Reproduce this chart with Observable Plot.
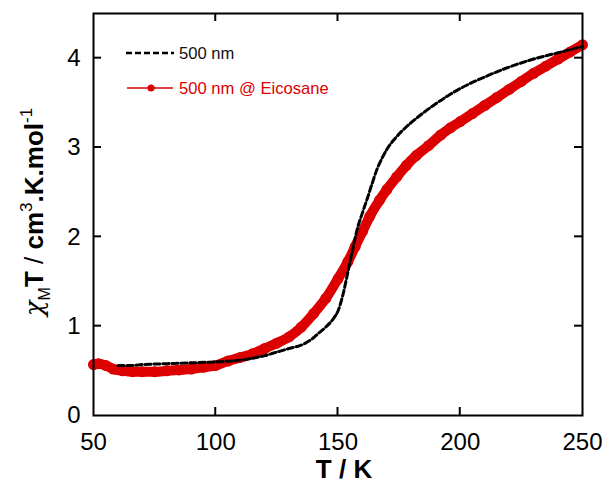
<!DOCTYPE html>
<html><head><meta charset="utf-8">
<script src="https://cdn.jsdelivr.net/npm/d3@7"></script>
<script src="https://cdn.jsdelivr.net/npm/@observablehq/plot@0.6"></script>
<style>body{margin:0;background:#fff} svg{display:block}</style>
</head><body><div id="chart"></div>
<script>
// 500 nm (dashed black)
const T_bulk   = [60,65,70,80,90,100,110,120,125,130,136,140,142,145,148,150,152,154,156,158,160,162,164,166,168,170,173,176,180,185,190,195,200,210,220,230,240,250];
const chi_bulk = [0.56,0.56,0.57,0.58,0.59,0.60,0.62,0.67,0.71,0.75,0.80,0.87,0.92,0.99,1.08,1.17,1.35,1.60,1.86,2.10,2.27,2.43,2.60,2.76,2.88,2.98,3.09,3.18,3.28,3.39,3.49,3.58,3.66,3.79,3.90,3.99,4.06,4.13];
// 500 nm @ Eicosane (red)
const T_eic    = [50,52,55,58,62,66,70,75,80,85,90,95,100,105,110,115,120,125,130,135,140,145,150,154,157,160,163,167,170,174,178,182,187,192,196,200,205,210,215,220,225,230,235,240,245,250];
const chi_eic  = [0.57,0.58,0.56,0.52,0.50,0.49,0.49,0.49,0.50,0.51,0.52,0.54,0.56,0.61,0.65,0.69,0.75,0.81,0.88,0.99,1.14,1.31,1.53,1.72,1.89,2.06,2.23,2.41,2.53,2.67,2.80,2.91,3.02,3.14,3.22,3.29,3.38,3.47,3.56,3.65,3.74,3.83,3.91,3.99,4.07,4.15];

const xTicks = [50,100,150,200,250];
const xInner = [100,150,200];
const yTicks = [0,1,2,3,4];
const yInner = [1,2,3,4];
const seriesNames = ["500 nm", "500 nm @ Eicosane"];
const xTitle = "T / K";

const RED = "#dd0000";
const bulk = T_bulk.map((t,i)=>({T:t, v:chi_bulk[i]}));
const eic = T_eic.map((t,i)=>({T:t, v:chi_eic[i]}));
const FONT = "Arial, 'Liberation Sans', sans-serif";

const chart = Plot.plot({
  width: 602, height: 483,
  marginTop: 13, marginBottom: 68, marginLeft: 93, marginRight: 20,
  style: {fontFamily: FONT, background: "#fff", color: "#000"},
  x: {domain: [50, 250]},
  y: {domain: [0, 4.5]},
  marks: [
    Plot.line(eic, {x: "T", y: "v", stroke: RED, strokeWidth: 10, curve: "monotone-x"}),
    Plot.dot(eic, {x: "T", y: "v", r: 5.5, fill: RED}),
    Plot.line(bulk, {x: "T", y: "v", stroke: "#000", strokeWidth: 3, strokeDasharray: "6,3", curve: "monotone-x"}),
    Plot.axisX({anchor: "bottom", ticks: xTicks, tickSize: 0, tickPadding: 17, fontSize: 24, tickFormat: "d", label: null}),
    Plot.axisY({anchor: "left", ticks: yTicks, tickSize: 0, tickPadding: 13, fontSize: 24, tickFormat: "d", label: null}),
    Plot.frame({stroke: "#000", strokeWidth: 2})
  ]
});
document.getElementById("chart").appendChild(chart);

const svg = d3.select(chart);
const sx = chart.scale("x"), sy = chart.scale("y");
const X0 = sx.apply(50), X1 = sx.apply(250), Y0 = sy.apply(0), Y1 = sy.apply(4.5);
// inward ticks on all four sides
const tk = svg.append("g").attr("stroke","#000").attr("stroke-width",2);
for (const v of xInner) {
  const x = sx.apply(v);
  tk.append("line").attr("x1",x).attr("x2",x).attr("y1",Y0).attr("y2",Y0-8);
  tk.append("line").attr("x1",x).attr("x2",x).attr("y1",Y1).attr("y2",Y1+8);
}
for (const v of yInner) {
  const y = sy.apply(v);
  tk.append("line").attr("x1",X0).attr("x2",X0+8).attr("y1",y).attr("y2",y);
  tk.append("line").attr("x1",X1).attr("x2",X1-8).attr("y1",y).attr("y2",y);
}

// Legend
const lg = svg.append("g").attr("font-family", FONT).attr("font-size", 16.6).attr("text-anchor","start");
lg.append("line").attr("x1",126).attr("x2",174).attr("y1",53).attr("y2",53)
  .attr("stroke","#000").attr("stroke-width",2.4).attr("stroke-dasharray","6,3");
lg.append("text").attr("x",179).attr("y",53).attr("dy","0.35em").attr("fill","#111").text(seriesNames[0]);
lg.append("line").attr("x1",127).attr("x2",173).attr("y1",88).attr("y2",88)
  .attr("stroke",RED).attr("stroke-width",1.5);
lg.append("circle").attr("cx",151).attr("cy",88).attr("r",3.5).attr("fill",RED);
lg.append("text").attr("x",179).attr("y",88).attr("dy","0.35em").attr("fill",RED).text(seriesNames[1]);

// X title
svg.append("text").attr("x",344).attr("y",478).attr("text-anchor","middle")
  .attr("font-family",FONT).attr("font-weight","bold").attr("font-size",26).text(xTitle);

// Y title with sub/superscripts
const yt = svg.append("text").attr("transform","translate(43,212) rotate(-90)")
  .attr("text-anchor","middle").attr("font-family",FONT).attr("font-weight","bold").attr("font-size",26);
yt.append("tspan").attr("font-family","'DejaVu Serif', serif").attr("font-weight","normal").attr("font-style","italic").text("χ");
yt.append("tspan").attr("font-size",16).attr("font-weight","normal").attr("dy",7).text("M");
yt.append("tspan").attr("dy",-7).text("T ");
yt.append("tspan").attr("font-weight","normal").text("/");
yt.append("tspan").text(" cm");
yt.append("tspan").attr("font-size",17).attr("font-weight","normal").attr("dy",-11).text("3");
yt.append("tspan").attr("dy",11).text(".K.mol");
yt.append("tspan").attr("font-size",17).attr("font-weight","normal").attr("dy",-11).text("-1");
</script>
</body></html>
